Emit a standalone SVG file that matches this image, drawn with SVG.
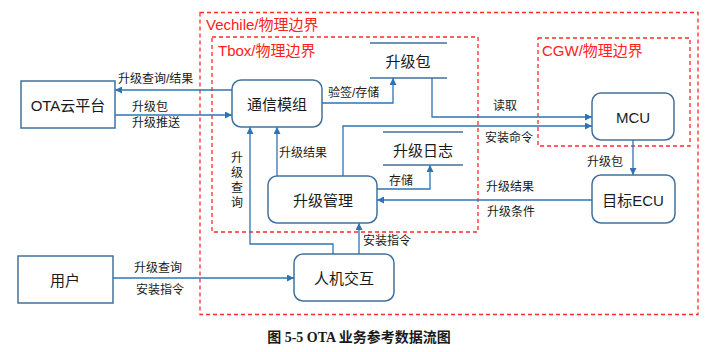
<svg xmlns="http://www.w3.org/2000/svg" width="720" height="352" viewBox="0 0 720 352">
<defs>
<marker id="ah" viewBox="0 0 10 10" refX="10" refY="5" markerWidth="7" markerHeight="7" markerUnits="userSpaceOnUse" orient="auto">
<path d="M0,0 L10,5 L0,10 z" fill="#2E74B5"/>
</marker>
<style>
.bd{fill:none;stroke:#FF2A2A;stroke-width:1.3;stroke-dasharray:4,3}
.bl{font-family:"Liberation Sans","Noto Sans CJK SC",sans-serif;font-size:15px;fill:#FF2020}
.nd{fill:#fff;stroke:#41719C;stroke-width:1.5}
.nt{font-family:"Liberation Sans","Noto Sans CJK SC",sans-serif;font-size:15px;fill:#1a1a1a;text-anchor:middle;dominant-baseline:central}
.ds{stroke:#41719C;stroke-width:1.3}
.cn{fill:none;stroke:#2E74B5;stroke-width:1.3;marker-end:url(#ah)}
.cl{fill:none;stroke:#2E74B5;stroke-width:1.3}
.lb{font-family:"Liberation Sans","Noto Sans CJK SC",sans-serif;font-size:12px;fill:#1a1a1a;dominant-baseline:central}
.cap{font-family:"Liberation Serif","Noto Sans CJK SC",serif;font-size:14px;font-weight:bold;fill:#1a1a1a;text-anchor:middle;dominant-baseline:central}
</style>
</defs>
<rect width="720" height="352" fill="#fff"/>
<g id="boundaries">
<rect class="bd" x="200" y="12.5" width="498" height="302"/>
<text class="bl" x="206" y="30" font-size="16">Vechile/物理边界</text>
<rect class="bd" x="212" y="37" width="266" height="195"/>
<text class="bl" x="218" y="56">Tbox/物理边界</text>
<rect class="bd" x="538" y="38" width="152" height="108"/>
<text class="bl" x="542" y="56">CGW/物理边界</text>
</g>
<g id="connectors">
<path class="cn" d="M232,90 L115,90"/>
<text class="lb" x="118" y="79">升级查询/结果</text>
<path class="cn" d="M115,115 L232,115"/>
<text class="lb" x="132" y="107">升级包</text>
<text class="lb" x="132" y="123">升级推送</text>
<path class="cn" d="M322,103 L393,103 L393,78"/>
<text class="lb" x="328" y="93">验签/存储</text>
<path class="cn" d="M432,78 L432,117 L592,117"/>
<text class="lb" x="493" y="106">读取</text>
<path class="cn" d="M343,176 L343,126 L592,126"/>
<text class="lb" x="485" y="138">安装命令</text>
<path class="cn" d="M377,189 L430,189 L430,165"/>
<text class="lb" x="389" y="181">存储</text>
<path class="cn" d="M277,176 L277,127"/>
<text class="lb" x="279" y="153">升级结果</text>
<path class="cn" d="M333,254 L333,244 L250,244 L250,127"/>
<text class="lb" x="231" y="158">升</text>
<text class="lb" x="231" y="173">级</text>
<text class="lb" x="231" y="188">查</text>
<text class="lb" x="231" y="203">询</text>
<path class="cn" d="M359,254 L359,223"/>
<text class="lb" x="363" y="241">安装指令</text>
<path class="cn" d="M113,278 L294,278"/>
<text class="lb" x="134" y="268">升级查询</text>
<text class="lb" x="136" y="290">安装指令</text>
<path class="cn" d="M633,140 L633,175"/>
<text class="lb" x="587" y="162">升级包</text>
<path class="cn" d="M592,200 L377,200"/>
<text class="lb" x="486" y="187">升级结果</text>
<text class="lb" x="487" y="212">升级条件</text>
</g>
<g id="ota">
<rect class="nd" x="21" y="81" width="94" height="47"/>
<text class="nt" x="68" y="105">OTA云平台</text>
</g>
<g id="comm">
<rect class="nd" x="232" y="80" width="90" height="47" rx="9"/>
<text class="nt" x="277" y="104">通信模组</text>
</g>
<g id="pkgstore">
<line class="ds" x1="370" y1="43" x2="447" y2="43"/>
<line class="ds" x1="370" y1="78" x2="447" y2="78"/>
<text class="nt" x="408" y="61">升级包</text>
</g>
<g id="mcu">
<rect class="nd" x="592" y="93" width="82" height="47" rx="9"/>
<text class="nt" x="633" y="117">MCU</text>
</g>
<g id="logstore">
<line class="ds" x1="383" y1="132" x2="463" y2="132"/>
<line class="ds" x1="383" y1="165" x2="463" y2="165"/>
<text class="nt" x="423" y="150">升级日志</text>
</g>
<g id="mgmt">
<rect class="nd" x="268" y="176" width="109" height="47" rx="9"/>
<text class="nt" x="323" y="200">升级管理</text>
</g>
<g id="ecu">
<rect class="nd" x="592" y="175" width="83" height="48" rx="9"/>
<text class="nt" x="633" y="200">目标ECU</text>
</g>
<g id="hmi">
<rect class="nd" x="294" y="254" width="100" height="47" rx="9"/>
<text class="nt" x="344" y="278">人机交互</text>
</g>
<g id="user">
<rect class="nd" x="18" y="256" width="95" height="47"/>
<text class="nt" x="65" y="280">用户</text>
</g>
<text class="cap" x="359" y="337">图 5-5 OTA 业务参考数据流图</text>
</svg>
